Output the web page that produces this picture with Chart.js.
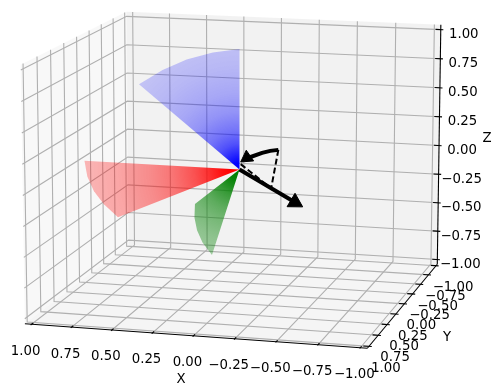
<!DOCTYPE html>
<html>
<head>
<meta charset="utf-8">
<title>Rotation</title>
<script src="https://cdn.jsdelivr.net/npm/chart.js@4"></script>
<style>
  body { margin: 0; background: #fff; }
  canvas { display: block; }
</style>
</head>
<body>
<canvas id="chart" width="500" height="389"></canvas>
<script>
// tick values and labels, same for all three axes
const tickValues = [-1, -0.75, -0.5, -0.25, 0, 0.25, 0.5, 0.75, 1];
const tickLabels = ["−1.00", "−0.75", "−0.50", "−0.25", "0.00", "0.25", "0.50", "0.75", "1.00"];

// tips of the rotated basis vectors, x y z
const redTips = [[1, 0, 0], [0.99, -0.024, -0.139], [0.96, -0.062, -0.272], [0.912, -0.113, -0.395], [0.841, -0.179, -0.52]];
const greenTips = [[0, 1, 0], [0.005, 0.994, -0.108], [-0.005, 0.975, -0.215], [-0.03, 0.947, -0.32], [-0.074, 0.899, -0.431]];
const blueTips = [[0, 0, 1], [0.141, 0.1, 0.985], [0.279, 0.195, 0.94], [0.405, 0.282, 0.867], [0.53, 0.362, 0.76]];

// rotation axis arrow and the angle marker around it
const axisTip = [-0.593, 0.805, -0.03];
const axisHead = [-0.528, 0.716, -0.027];
const footPoint = [-0.308, 0.419, -0.016];
const arcPoints = [[-0.352, 0.42, 0.3], [-0.279, 0.33, 0.263], [-0.208, 0.25, 0.22], [-0.098, 0.12, 0.142], [-0.068, 0.08, 0.125]];
const arcTip = [-0.009, 0.04, 0.066];

// view settings
const ELEV = 12, AZIM = 105, DIST = 10;
const EDGE = 1 + 1 / 24;          // panes stick out a bit past the limits
const BOX = [0.5714, 0.5714, 0.4286];
const SCALE = 2850, OX = 239.5, OY = 169.5;
const WIDTH = 500, HEIGHT = 389;

const el = ELEV * Math.PI / 180, az = AZIM * Math.PI / 180;
const w = [Math.cos(el) * Math.cos(az), Math.cos(el) * Math.sin(az), Math.sin(el)];
const u = [-Math.sin(az), Math.cos(az), 0];
const v = [-Math.sin(el) * Math.cos(az), -Math.sin(el) * Math.sin(az), Math.cos(el)];
const dot = (a, b) => a[0] * b[0] + a[1] * b[1] + a[2] * b[2];

// 3d data coordinates to the flat projection plane
function project(p) {
    const q = [p[0] * BOX[0], p[1] * BOX[1], p[2] * BOX[2]];
    const d = DIST - dot(w, q);
    return { x: dot(u, q) / d, y: dot(v, q) / d };
}

const layers = [];

function addLine(points, color, lineWidth, dash) {
    layers.push({
        data: points.map(project), showLine: true, pointRadius: 0, tension: 0,
        borderColor: color, borderWidth: lineWidth, borderDash: dash || [], fill: false
    });
}

function addShape(points, color) {
    layers.push({
        data: points.map(project), showLine: true, pointRadius: 0, tension: 0,
        borderWidth: 0, borderColor: "transparent", backgroundColor: color, fill: "shape"
    });
}

function addHead(center, tip, radius) {
    const a = project(center), b = project(tip);
    layers.push({
        data: [a], showLine: false, pointStyle: "triangle", pointRadius: radius,
        pointRotation: Math.atan2(b.x - a.x, b.y - a.y) * 180 / Math.PI,
        pointBackgroundColor: "#000", pointBorderColor: "#000", pointBorderWidth: 1
    });
}

// fans fade with distance from the origin
const gradientCtx = document.createElement("canvas").getContext("2d");
function fanGradient(rgb, radius, tipAlpha) {
    const g = gradientCtx.createRadialGradient(OX, OY, 0, OX, OY, radius);
    const k = -Math.log(1 - tipAlpha);
    [0.03, 0.06, 0.12, 0.2, 0.3, 0.45, 0.6, 0.8, 1].forEach((t) => {
        g.addColorStop(t, `rgba(${rgb},${1 - Math.exp(-k / t)})`);
    });
    return g;
}

// panes
addShape([[EDGE, -EDGE, -EDGE], [EDGE, EDGE, -EDGE], [EDGE, EDGE, EDGE], [EDGE, -EDGE, EDGE], [EDGE, -EDGE, -EDGE]], "rgba(242,242,242,0.5)");
addShape([[-EDGE, -EDGE, -EDGE], [EDGE, -EDGE, -EDGE], [EDGE, -EDGE, EDGE], [-EDGE, -EDGE, EDGE], [-EDGE, -EDGE, -EDGE]], "rgba(230,230,230,0.5)");
addShape([[-EDGE, -EDGE, -EDGE], [EDGE, -EDGE, -EDGE], [EDGE, EDGE, -EDGE], [-EDGE, EDGE, -EDGE], [-EDGE, -EDGE, -EDGE]], "rgba(236,236,236,0.5)");

// grid
tickValues.forEach((t) => {
    addLine([[t, EDGE, -EDGE], [t, -EDGE, -EDGE], [t, -EDGE, EDGE]], "#b0b0b0", 1.1);
    addLine([[-EDGE, t, -EDGE], [EDGE, t, -EDGE], [EDGE, t, EDGE]], "#b0b0b0", 1.1);
    addLine([[-EDGE, -EDGE, t], [EDGE, -EDGE, t], [EDGE, EDGE, t]], "#b0b0b0", 1.1);
});

// axis lines and ticks
addLine([[EDGE, EDGE, -EDGE], [-EDGE, EDGE, -EDGE]], "#000", 1.1);
addLine([[-EDGE, EDGE, -EDGE], [-EDGE, -EDGE, -EDGE]], "#000", 1.1);
addLine([[-EDGE, -EDGE, -EDGE], [-EDGE, -EDGE, EDGE]], "#000", 1.1);
const TICK_OUT = 1 / 60, TICK_IN = 1 / 30;
tickValues.forEach((t) => {
    addLine([[t, EDGE - TICK_IN, -EDGE], [t, EDGE + TICK_OUT, -EDGE]], "#000", 1.1);
    addLine([[-EDGE + TICK_IN, t, -EDGE], [-EDGE - TICK_OUT, t, -EDGE]], "#000", 1.1);
    addLine([[-EDGE + TICK_IN, -EDGE, t], [-EDGE - TICK_OUT, -EDGE, t]], "#000", 1.1);
});

// rotated basis vectors
const ORIGIN = [0, 0, 0];
addShape([ORIGIN, ...blueTips, ORIGIN], fanGradient("0,0,255", 128, 0.2));
addShape([ORIGIN, ...redTips, ORIGIN], fanGradient("255,0,0", 150, 0.28));
addShape([ORIGIN, ...greenTips, ORIGIN], fanGradient("0,128,0", 90, 0.35));

// angle marker
addLine([arcPoints[0], footPoint, arcTip], "#000", 2, [6, 3]);
addLine(arcPoints, "#000", 4);
addHead(arcPoints[4], arcTip, 7.5);

// rotation axis
addLine([ORIGIN, axisHead], "#000", 4);
addHead(axisHead, axisTip, 9);

layers.forEach((d, i) => { d.order = layers.length - i; d.clip = false; });

// tick and axis text, placed through the same scales as the marks
const AXIS_TICK = (t) => ({
    x: [t, EDGE, -EDGE, -6, 27],
    y: [-EDGE, t, -EDGE, 17, 22],
    z: [-EDGE, -EDGE, t, 23, 5]
});
const axisNames = [["X", 181, 380], ["Y", 447, 338], ["Z", 487, 139]];

const textPlugin = {
    id: "axisText",
    afterDatasetsDraw(chart) {
        const { ctx, scales } = chart;
        ctx.save();
        ctx.fillStyle = "#000";
        ctx.font = "13.3px 'DejaVu Sans'";
        ctx.textAlign = "center";
        ctx.textBaseline = "middle";
        tickValues.forEach((t, i) => {
            Object.values(AXIS_TICK(t)).forEach((a) => {
                const p = project(a.slice(0, 3));
                ctx.fillText(tickLabels[i], scales.x.getPixelForValue(p.x) + a[3], scales.y.getPixelForValue(p.y) + a[4]);
            });
        });
        axisNames.forEach((n) => ctx.fillText(n[0], n[1], n[2]));
        ctx.restore();
    }
};

new Chart(document.getElementById("chart"), {
    type: "scatter",
    data: { datasets: layers },
    options: {
        responsive: false,
        animation: false,
        layout: { padding: 0, autoPadding: false },
        plugins: { legend: { display: false }, tooltip: { enabled: false }, title: { display: false } },
        scales: {
            x: { type: "linear", display: false, min: -OX / SCALE, max: (WIDTH - OX) / SCALE },
            y: { type: "linear", display: false, min: (OY - HEIGHT) / SCALE, max: OY / SCALE }
        }
    },
    plugins: [textPlugin]
});
</script>
</body>
</html>
